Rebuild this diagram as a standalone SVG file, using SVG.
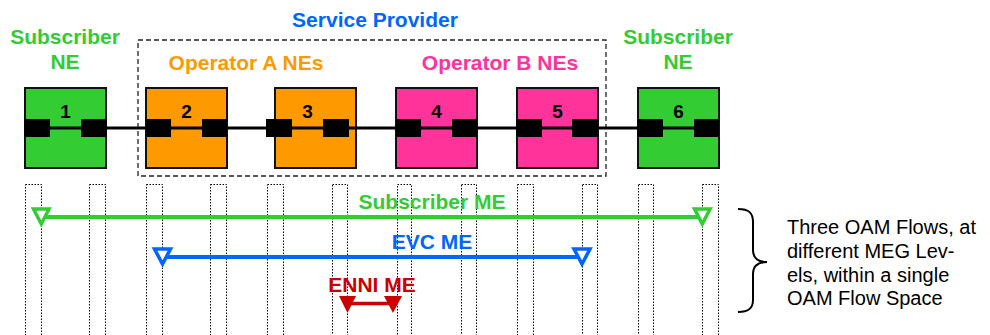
<svg xmlns="http://www.w3.org/2000/svg" width="990" height="335" viewBox="0 0 990 335">
<style>
.lbl{font-family:"Liberation Sans",Arial,sans-serif;font-weight:bold;font-size:21px;text-anchor:middle}
.num{font-family:"Liberation Sans",Arial,sans-serif;font-weight:bold;font-size:19px;text-anchor:middle;fill:#000}
.note{font-family:"Liberation Sans",Arial,sans-serif;font-size:20px;fill:#000}
.box{stroke:#111;stroke-width:2}
.green{fill:#33cc33}.orange{fill:#ff9900}.pink{fill:#ff3399}
.port{fill:#000}
.dot{fill:none;stroke:#000;stroke-width:1;stroke-dasharray:1.5 1.5}
.tri{fill:#fff;stroke-width:3.5;stroke-linejoin:miter}
</style>
<rect width="990" height="335" fill="#fff"/>

<g id="service-provider">
<rect x="138" y="40" width="468" height="136" fill="none" stroke="#222" stroke-width="1.3" stroke-dasharray="5 3"/>
<text class="lbl" x="375" y="27" fill="#0066ff">Service Provider</text>
</g>

<g id="labels">
<text class="lbl" x="65" y="44" fill="#33cc33">Subscriber</text>
<text class="lbl" x="65" y="69" fill="#33cc33">NE</text>
<text class="lbl" x="246" y="70" fill="#ff9900">Operator A NEs</text>
<text class="lbl" x="500" y="70" fill="#ff3399">Operator B NEs</text>
<text class="lbl" x="678" y="44" fill="#33cc33">Subscriber</text>
<text class="lbl" x="678" y="69" fill="#33cc33">NE</text>
</g>

<g id="guides">
<rect class="dot" x="25.5" y="184.5" width="16" height="160"/>
<rect class="dot" x="89.5" y="184.5" width="16" height="160"/>
<rect class="dot" x="146.5" y="184.5" width="16" height="160"/>
<rect class="dot" x="210.5" y="184.5" width="16" height="160"/>
<rect class="dot" x="267.5" y="184.5" width="16" height="160"/>
<rect class="dot" x="332.5" y="184.5" width="15" height="160"/>
<rect class="dot" x="397.5" y="184.5" width="14" height="160"/>
<rect class="dot" x="461.5" y="184.5" width="15" height="160"/>
<rect class="dot" x="517.5" y="184.5" width="16" height="160"/>
<rect class="dot" x="582.5" y="184.5" width="15" height="160"/>
<rect class="dot" x="638.5" y="184.5" width="15" height="160"/>
<rect class="dot" x="702.5" y="184.5" width="16" height="160"/>
</g>

<g id="ne1"><rect class="box green" x="25" y="88" width="81" height="80"/></g>
<g id="ne2"><rect class="box orange" x="146" y="88" width="81" height="80"/></g>
<g id="ne3"><rect class="box orange" x="275" y="88" width="81" height="80"/></g>
<g id="ne4"><rect class="box pink" x="396" y="88" width="81" height="80"/></g>
<g id="ne5"><rect class="box pink" x="517" y="88" width="81" height="80"/></g>
<g id="ne6"><rect class="box green" x="638" y="88" width="81" height="80"/></g>

<g id="connectors">
<line x1="24" y1="128" x2="719" y2="128" stroke="#000" stroke-width="3"/>
<line x1="46" y1="217" x2="698" y2="217" stroke="#33cc33" stroke-width="4"/>
<line x1="167" y1="257" x2="578" y2="257" stroke="#0066ff" stroke-width="4"/>
<line x1="348" y1="303.5" x2="393" y2="303.5" stroke="#cc0000" stroke-width="3.5"/>
<path class="tri" stroke="#33cc33" d="M33.5,209 L49,209 L41.3,224 Z"/>
<path class="tri" stroke="#33cc33" d="M694.5,209 L710,209 L702.3,224 Z"/>
<path class="tri" stroke="#0066ff" d="M154.5,249 L170.5,249 L162.5,264 Z"/>
<path class="tri" stroke="#0066ff" d="M574,249 L590,249 L582,264 Z"/>
<path fill="#cc0000" d="M339,296 L356,296 L347.5,313 Z"/>
<path fill="#cc0000" d="M384,296 L402,296 L393,313 Z"/>
</g>

<g id="ports">
<rect class="port" x="24" y="119" width="26" height="18"/>
<rect class="port" x="81" y="119" width="26" height="18"/>
<rect class="port" x="146" y="119" width="25" height="18"/>
<rect class="port" x="202" y="119" width="25" height="18"/>
<rect class="port" x="266" y="119" width="26" height="18"/>
<rect class="port" x="323" y="119" width="26" height="18"/>
<rect class="port" x="396" y="119" width="25" height="18"/>
<rect class="port" x="452" y="119" width="25" height="18"/>
<rect class="port" x="516" y="119" width="26" height="18"/>
<rect class="port" x="572" y="119" width="26" height="18"/>
<rect class="port" x="637" y="119" width="26" height="18"/>
<rect class="port" x="694" y="119" width="25" height="18"/>
</g>

<g id="numbers">
<text class="num" x="65.5" y="117.5">1</text>
<text class="num" x="186.5" y="117.5">2</text>
<text class="num" x="307.5" y="117.5">3</text>
<text class="num" x="436.5" y="117.5">4</text>
<text class="num" x="557.5" y="117.5">5</text>
<text class="num" x="678.5" y="117.5">6</text>
</g>

<g id="me-labels">
<text class="lbl" x="432" y="209" fill="#33cc33">Subscriber ME</text>
<text class="lbl" x="432" y="249" fill="#0066ff">EVC ME</text>
<text class="lbl" x="372" y="292" fill="#cc0000">ENNI ME</text>
</g>

<g id="note">
<path d="M738,209 C749,209 753,213 753,222 L753,250 C753,258 757,262 767,262 C757,262 753,266 753,274 L753,300 C753,308 749,312 738,312" fill="none" stroke="#000" stroke-width="2"/>
<text class="note" x="787" y="234">Three OAM Flows, at</text>
<text class="note" x="787" y="258">different MEG Lev-</text>
<text class="note" x="787" y="282">els, within a single</text>
<text class="note" x="787" y="305">OAM Flow Space</text>
</g>
</svg>
